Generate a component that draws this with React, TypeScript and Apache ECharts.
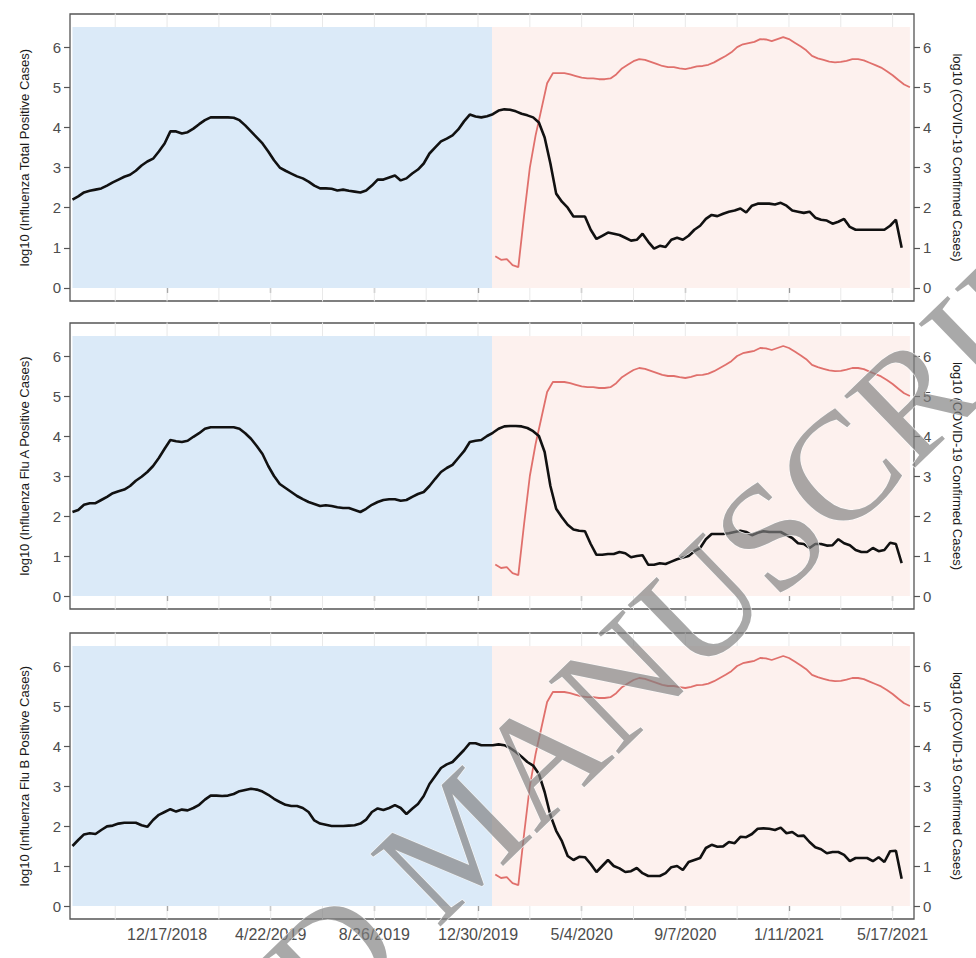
import React, { useEffect, useRef } from 'react';
import * as echarts from 'echarts';

// ---------- data ----------
const FLU_START = '2018-08-24'; // first weekly point of the influenza series
const COVID_START = '2020-01-20'; // first weekly point of the COVID-19 series
const X_MIN = '2018-08-21';
const X_MAX = '2021-06-12';
const PRE_COVID_START = '2018-08-24';
const COVID_ERA_START = '2020-01-16';
const COVID_ERA_END = '2021-06-07';
const SHADE_TOP = 6.5;

const MAJOR_TICKS = ['12/17/2018', '4/22/2019', '8/26/2019', '12/30/2019', '5/4/2020', '9/7/2020', '1/11/2021', '5/17/2021'];
const MINOR_TICKS = ['10/15/2018', '2/18/2019', '6/24/2019', '10/28/2019', '3/2/2020', '7/6/2020', '11/9/2020', '3/15/2021'];
const Y_TICKS = [0, 1, 2, 3, 4, 5, 6];

const FLU_TOTAL = [
  2.2, 2.28, 2.38, 2.42, 2.45, 2.48, 2.55, 2.63, 2.7, 2.77,
  2.82, 2.92, 3.05, 3.15, 3.22, 3.4, 3.6, 3.9, 3.9, 3.85,
  3.88, 3.97, 4.08, 4.18, 4.25, 4.25, 4.25, 4.25, 4.24, 4.18,
  4.05, 3.9, 3.75, 3.6, 3.4, 3.18, 3.0, 2.92, 2.85, 2.78,
  2.73, 2.65, 2.55, 2.48, 2.48, 2.47, 2.43, 2.45, 2.42, 2.4,
  2.38, 2.43, 2.55, 2.7, 2.7, 2.75, 2.8, 2.68, 2.73, 2.85,
  2.95, 3.1, 3.35, 3.5, 3.65, 3.72, 3.8, 3.95, 4.15, 4.32,
  4.27, 4.25, 4.28, 4.33, 4.42, 4.45, 4.44, 4.4, 4.34, 4.3,
  4.25, 4.12, 3.75, 3.1, 2.35, 2.15, 2.0, 1.78, 1.78, 1.78,
  1.45, 1.22, 1.3, 1.38, 1.35, 1.32, 1.25, 1.18, 1.2, 1.35,
  1.15, 0.98, 1.05, 1.02, 1.2, 1.25, 1.2, 1.3, 1.45, 1.55,
  1.72, 1.82, 1.79, 1.85, 1.9, 1.93, 1.98, 1.88, 2.05, 2.1,
  2.1, 2.1, 2.08, 2.12, 2.05, 1.93, 1.9, 1.87, 1.9, 1.75,
  1.7, 1.68, 1.6, 1.65, 1.72, 1.52, 1.45, 1.45, 1.45, 1.45,
  1.45, 1.45, 1.55, 1.7, 1.0,
];

const FLU_A = [
  2.1, 2.15, 2.28, 2.32, 2.32, 2.4, 2.48, 2.57, 2.62, 2.66,
  2.75, 2.88, 2.98, 3.1, 3.25, 3.45, 3.68, 3.9, 3.87, 3.85,
  3.88, 3.98, 4.07, 4.18, 4.22, 4.22, 4.22, 4.22, 4.22, 4.18,
  4.07, 3.93, 3.75, 3.55, 3.25, 3.0, 2.8, 2.7, 2.6, 2.5,
  2.42, 2.35, 2.3, 2.25, 2.27, 2.25, 2.22, 2.2, 2.2, 2.15,
  2.1, 2.18, 2.28, 2.35, 2.4, 2.42, 2.42, 2.38, 2.4, 2.48,
  2.55, 2.6, 2.75, 2.93, 3.1, 3.2, 3.28, 3.45, 3.62, 3.85,
  3.88, 3.9, 4.0, 4.08, 4.18, 4.24, 4.25, 4.25, 4.24, 4.2,
  4.12, 4.0, 3.6, 2.75, 2.18, 1.97, 1.78, 1.66, 1.63, 1.62,
  1.3, 1.03, 1.03, 1.05, 1.05, 1.1, 1.07, 0.97, 1.0, 1.02,
  0.78, 0.78, 0.82, 0.8, 0.86, 0.92, 0.96, 1.0, 1.12, 1.2,
  1.42, 1.55, 1.55, 1.55, 1.57, 1.6, 1.63, 1.6, 1.52, 1.58,
  1.62, 1.6, 1.6, 1.6, 1.52, 1.45, 1.32, 1.3, 1.2, 1.3,
  1.3, 1.26, 1.27, 1.42, 1.32, 1.27, 1.15, 1.1, 1.1, 1.2,
  1.12, 1.15, 1.33, 1.3, 0.82,
];

const FLU_B = [
  1.5, 1.65, 1.79, 1.82, 1.8, 1.9, 1.99, 2.01, 2.06, 2.08,
  2.08, 2.08, 2.02, 1.98, 2.15, 2.28, 2.35, 2.42, 2.36, 2.41,
  2.39, 2.45, 2.53, 2.66, 2.76, 2.76, 2.75, 2.76, 2.8, 2.87,
  2.9, 2.93, 2.91, 2.86, 2.78, 2.68, 2.6, 2.53, 2.5, 2.5,
  2.45, 2.35, 2.14, 2.06, 2.03, 2.0, 2.0, 2.0, 2.01, 2.02,
  2.06, 2.16, 2.35, 2.44, 2.4, 2.45, 2.52, 2.45, 2.3, 2.43,
  2.55, 2.75, 3.05, 3.25, 3.45, 3.54, 3.6, 3.75, 3.9, 4.07,
  4.07, 4.02, 4.02, 4.02, 4.04, 4.02, 3.95, 3.85, 3.73, 3.6,
  3.51, 3.3, 2.85, 2.27, 1.88, 1.62, 1.25, 1.15, 1.23, 1.22,
  1.05, 0.85, 1.0, 1.15, 1.0, 0.94, 0.85, 0.87, 0.95, 0.82,
  0.75, 0.75, 0.75, 0.82, 0.97, 1.0, 0.9, 1.1, 1.15, 1.2,
  1.45, 1.53, 1.48, 1.49, 1.6, 1.57, 1.73, 1.72, 1.8, 1.93,
  1.94, 1.93, 1.9, 1.96, 1.82, 1.85, 1.75, 1.76, 1.6, 1.47,
  1.42, 1.32, 1.35, 1.35, 1.28, 1.12, 1.2, 1.2, 1.2, 1.12,
  1.22, 1.1, 1.37, 1.38, 0.68,
];

const COVID = [
  0.79, 0.7, 0.72, 0.57, 0.52, 1.8, 3.0, 3.8, 4.45, 5.1,
  5.35, 5.35, 5.35, 5.32, 5.28, 5.24, 5.22, 5.22, 5.2, 5.2,
  5.22, 5.32, 5.47, 5.56, 5.65, 5.7, 5.68, 5.63, 5.58, 5.53,
  5.5, 5.5, 5.47, 5.45, 5.48, 5.52, 5.53, 5.56, 5.62, 5.7,
  5.78, 5.87, 6.0, 6.07, 6.1, 6.13, 6.2, 6.19, 6.15, 6.2,
  6.25, 6.2, 6.11, 6.02, 5.92, 5.78, 5.72, 5.68, 5.64, 5.62,
  5.63, 5.66, 5.7, 5.7, 5.67, 5.61, 5.55, 5.49, 5.4, 5.3,
  5.18, 5.07, 5.0,
];

const PANEL_TITLES = [
  'log10 (Influenza Total Positive Cases)',
  'log10 (Influenza Flu A Positive Cases)',
  'log10 (Influenza Flu B Positive Cases)',
];
const COVID_TITLE = 'log10 (COVID-19 Confirmed Cases)';
const WATERMARK = 'ACCEPTED MANUSCRIPT';

// ---------- helpers ----------
const DAY = 86400000;
const iso = (s: string) => {
  const [y, m, d] = s.split('-').map(Number);
  return Date.UTC(y, m - 1, d);
};
const mdy = (s: string) => {
  const [m, d, y] = s.split('/').map(Number);
  return Date.UTC(y, m - 1, d);
};
const fmt = (v: number) => {
  const d = new Date(v);
  return `${d.getUTCMonth() + 1}/${d.getUTCDate()}/${d.getUTCFullYear()}`;
};
const weekly = (start: string, values: number[]) =>
  values.map((v, i) => [iso(start) + i * 7 * DAY, v]);

// ---------- layout ----------
const Y_MIN = -0.325;
const Y_MAX = 6.825;
const GRID_TOPS = [14, 323, 633];
const GRID_HEIGHTS = [287, 286, 286];
const BLUE = '#DBEAF8';
const PINK = '#FDF1EE';
const RED = '#E0706C';
const LABEL_GREY = '#4d4d4d';
const BORDER = '#555555';
const SANS = 'Liberation Sans, Arial, sans-serif';

export default function App() {
  const ref = useRef<HTMLDivElement>(null);

  useEffect(() => {
    if (!ref.current) return;
    const chart = echarts.init(ref.current, null, { renderer: 'svg' });

    const majors = MAJOR_TICKS.map(mdy);
    const minors = MINOR_TICKS.map(mdy);
    const gridDates = [...majors, ...minors];
    const fluSets = [FLU_TOTAL, FLU_A, FLU_B];

    const grids = GRID_TOPS.map((top, i) => ({
      left: 70,
      right: 62,
      top,
      height: GRID_HEIGHTS[i],
      show: true,
      borderColor: BORDER,
      borderWidth: 1.3,
      backgroundColor: '#ffffff',
    }));

    const xAxes = GRID_TOPS.map((_, i) => ({
      type: 'value',
      gridIndex: i,
      min: iso(X_MIN),
      max: iso(X_MAX),
      scale: true,
      axisLine: { show: false },
      splitLine: { show: false },
      axisTick: {
        show: true,
        length: 5,
        customValues: majors,
        lineStyle: { color: BORDER, width: 1.2 },
      },
      axisLabel: {
        show: i === 2,
        customValues: majors,
        formatter: (v: number) => fmt(v),
        color: LABEL_GREY,
        fontSize: 16,
        fontFamily: SANS,
        margin: 7,
        hideOverlap: false,
      },
    }));

    const yAxes: any[] = [];
    GRID_TOPS.forEach((_, i) => {
      const common = {
        type: 'value',
        gridIndex: i,
        min: Y_MIN,
        max: Y_MAX,
        splitLine: { show: false },
        axisLine: { show: false },
        axisTick: {
          show: true,
          length: 6,
          customValues: Y_TICKS,
          lineStyle: { color: BORDER, width: 1.2 },
        },
        nameLocation: 'middle',
        nameTextStyle: {
          color: '#1a1a1a',
          fontSize: 13,
          fontFamily: SANS,
        },
      };
      yAxes.push({
        ...common,
        position: 'left',
        name: PANEL_TITLES[i],
        nameRotate: 90,
        nameGap: 39,
        axisLabel: {
          customValues: Y_TICKS,
          color: LABEL_GREY,
          fontSize: 15,
          fontFamily: SANS,
          margin: 9,
        },
      });
      yAxes.push({
        ...common,
        position: 'right',
        name: COVID_TITLE,
        nameRotate: -90,
        nameGap: 37,
        axisLabel: {
          customValues: Y_TICKS,
          color: LABEL_GREY,
          fontSize: 15,
          fontFamily: SANS,
          margin: 9,
        },
      });
    });

    const series: any[] = [];
    GRID_TOPS.forEach((_, i) => {
      // light vertical grid lines
      const gl: any[] = [];
      gridDates.forEach((d) => {
        gl.push([d, Y_MIN - 1], [d, Y_MAX + 1], [d, '-']);
      });
      series.push({
        type: 'line',
        xAxisIndex: i,
        yAxisIndex: 2 * i,
        data: gl,
        symbol: 'none',
        silent: true,
        connectNulls: false,
        lineStyle: { color: '#e9e9e9', width: 1 },
        z: 0,
      });
      // shading of the two periods
      series.push({
        type: 'line',
        xAxisIndex: i,
        yAxisIndex: 2 * i,
        data: [],
        silent: true,
        z: 1,
        markArea: {
          silent: true,
          data: [
            [
              { xAxis: iso(PRE_COVID_START), yAxis: 0, itemStyle: { color: BLUE } },
              { xAxis: iso(COVID_ERA_START), yAxis: SHADE_TOP },
            ],
            [
              { xAxis: iso(COVID_ERA_START), yAxis: 0, itemStyle: { color: PINK } },
              { xAxis: iso(COVID_ERA_END), yAxis: SHADE_TOP },
            ],
          ],
        },
      });
      series.push({
        type: 'line',
        xAxisIndex: i,
        yAxisIndex: 2 * i + 1,
        data: weekly(COVID_START, COVID),
        symbol: 'none',
        lineStyle: { color: RED, width: 1.8 },
        z: 3,
      });
      series.push({
        type: 'line',
        xAxisIndex: i,
        yAxisIndex: 2 * i,
        data: weekly(FLU_START, fluSets[i]),
        symbol: 'none',
        lineStyle: { color: '#111111', width: 2.6 },
        z: 4,
      });
    });

    chart.setOption({
      animation: false,
      backgroundColor: '#ffffff',
      grid: grids,
      xAxis: xAxes,
      yAxis: yAxes,
      series,
      graphic: [
        {
          type: 'text',
          x: 458,
          y: 837,
          rotation: (44 * Math.PI) / 180,
          silent: true,
          z: 100,
          style: {
            text: WATERMARK,
            fontSize: 154,
            fontFamily: 'Liberation Serif',
            fill: 'rgba(128,128,128,0.68)',
            stroke: 'rgba(255,255,255,0.9)',
            lineWidth: 1,
            align: 'center',
            verticalAlign: 'middle',
          },
        },
      ],
    });

    return () => chart.dispose();
  }, []);

  return (
    <div
      ref={ref}
      style={{ position: 'absolute', left: 0, top: 0, width: 976, height: 958 }}
    />
  );
}
